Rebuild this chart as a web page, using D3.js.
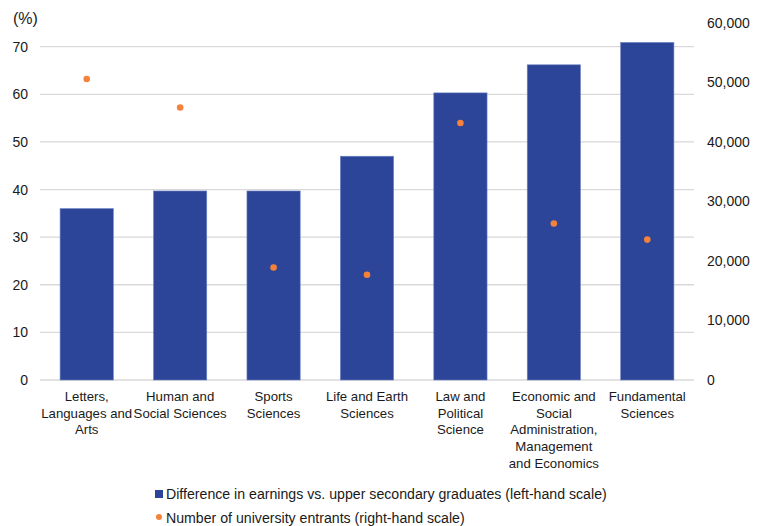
<!DOCTYPE html>
<html>
<head>
<meta charset="utf-8">
<script src="https://cdn.jsdelivr.net/npm/d3@7"></script>
<style>
  body { margin: 0; background: #fff; }
  svg { display: block; font-family: "Liberation Sans", Arial, sans-serif; }
</style>
</head>
<body>
<svg id="chart" width="763" height="526"></svg>
<script>
// Fields of study (label lines)
const categories = [
  ["Letters,", "Languages and", "Arts"],
  ["Human and", "Social Sciences"],
  ["Sports", "Sciences"],
  ["Life and Earth", "Sciences"],
  ["Law and", "Political", "Science"],
  ["Economic and", "Social", "Administration,", "Management", "and Economics"],
  ["Fundamental", "Sciences"]
];
// Earnings premium vs. upper secondary graduates (%)
const earningsGap = [36, 39.7, 39.7, 47, 60.3, 66.2, 70.9];
// University entrants
const entrants = [50600, 45800, 18900, 17700, 43200, 26300, 23600];

const leftTicks = [0, 10, 20, 30, 40, 50, 60, 70];
const rightTicks = [0, 10000, 20000, 30000, 40000, 50000, 60000];
const legendLabels = [
  "Difference in earnings vs. upper secondary graduates (left-hand scale)",
  "Number of university entrants (right-hand scale)"
];

const barColor = "#2c4599";
const dotColor = "#f5823a";
const gridColor = "#d9d9d9";
const textColor = "#1a1a1a";

const svg = d3.select("#chart");
const plot = { left: 40, right: 694, top: 23, bottom: 380 };

const x = d3.scaleBand()
  .domain(d3.range(categories.length))
  .range([plot.left, plot.right])
  .paddingInner(0.43)
  .paddingOuter(0.215);

const yLeft = d3.scaleLinear().domain([0, 70]).range([plot.bottom, 46.7]);
const yRight = d3.scaleLinear().domain([0, 60000]).range([plot.bottom, 23]);

// Horizontal gridlines on the left scale
svg.append("g")
  .selectAll("line")
  .data(leftTicks)
  .join("line")
  .attr("x1", plot.left)
  .attr("x2", plot.right)
  .attr("y1", d => yLeft(d))
  .attr("y2", d => yLeft(d))
  .attr("stroke", gridColor)
  .attr("stroke-width", 1.3);

// Bars
svg.append("g")
  .selectAll("rect")
  .data(earningsGap)
  .join("rect")
  .attr("x", (d, i) => x(i))
  .attr("width", x.bandwidth())
  .attr("y", d => yLeft(d))
  .attr("height", d => yLeft(0) - yLeft(d))
  .attr("fill", barColor)
  .attr("stroke", "#6f84c4")
  .attr("stroke-width", 0.6);

// Entrant dots
svg.append("g")
  .selectAll("circle")
  .data(entrants)
  .join("circle")
  .attr("cx", (d, i) => x(i) + x.bandwidth() / 2)
  .attr("cy", d => yRight(d))
  .attr("r", 3.3)
  .attr("fill", dotColor);

// Left axis
const leftAxis = d3.axisLeft(yLeft).tickValues(leftTicks).tickSize(0).tickPadding(0);
const gl = svg.append("g").attr("transform", "translate(28,0)").call(leftAxis);
gl.select(".domain").remove();
gl.selectAll("text")
  .attr("font-size", 14)
  .attr("fill", textColor)
  .attr("font-family", "Liberation Sans, Arial, sans-serif");

svg.append("text")
  .attr("x", 13)
  .attr("y", 24)
  .attr("font-size", 16)
  .attr("fill", textColor)
  .text("(%)");

// Right axis
const rightAxis = d3.axisRight(yRight).tickValues(rightTicks).tickSize(0).tickPadding(0)
  .tickFormat(d3.format(","));
const gr = svg.append("g").attr("transform", "translate(707,0)").call(rightAxis);
gr.select(".domain").remove();
gr.selectAll("text")
  .attr("font-size", 14)
  .attr("fill", textColor)
  .attr("font-family", "Liberation Sans, Arial, sans-serif");

// Category labels
const catG = svg.append("g")
  .selectAll("text")
  .data(categories)
  .join("text")
  .attr("text-anchor", "middle")
  .attr("font-size", 13.2)
  .attr("fill", textColor)
  .attr("transform", (d, i) => `translate(${x(i) + x.bandwidth() / 2},401)`);
catG.selectAll("tspan")
  .data(d => d)
  .join("tspan")
  .attr("x", 0)
  .attr("dy", (d, j) => j === 0 ? 0 : 16.7)
  .text(d => d);

// Legend
const legend = svg.append("g");
legend.append("rect")
  .attr("x", 155).attr("y", 490).attr("width", 8).attr("height", 8)
  .attr("fill", barColor);
legend.append("circle")
  .attr("cx", 159).attr("cy", 517).attr("r", 3)
  .attr("fill", dotColor);
legend.selectAll("text.lg")
  .data(legendLabels)
  .join("text")
  .attr("class", "lg")
  .attr("x", 166)
  .attr("y", (d, i) => 499 + i * 24)
  .attr("font-size", 14.15)
  .attr("fill", textColor)
  .text(d => d);
</script>
</body>
</html>
